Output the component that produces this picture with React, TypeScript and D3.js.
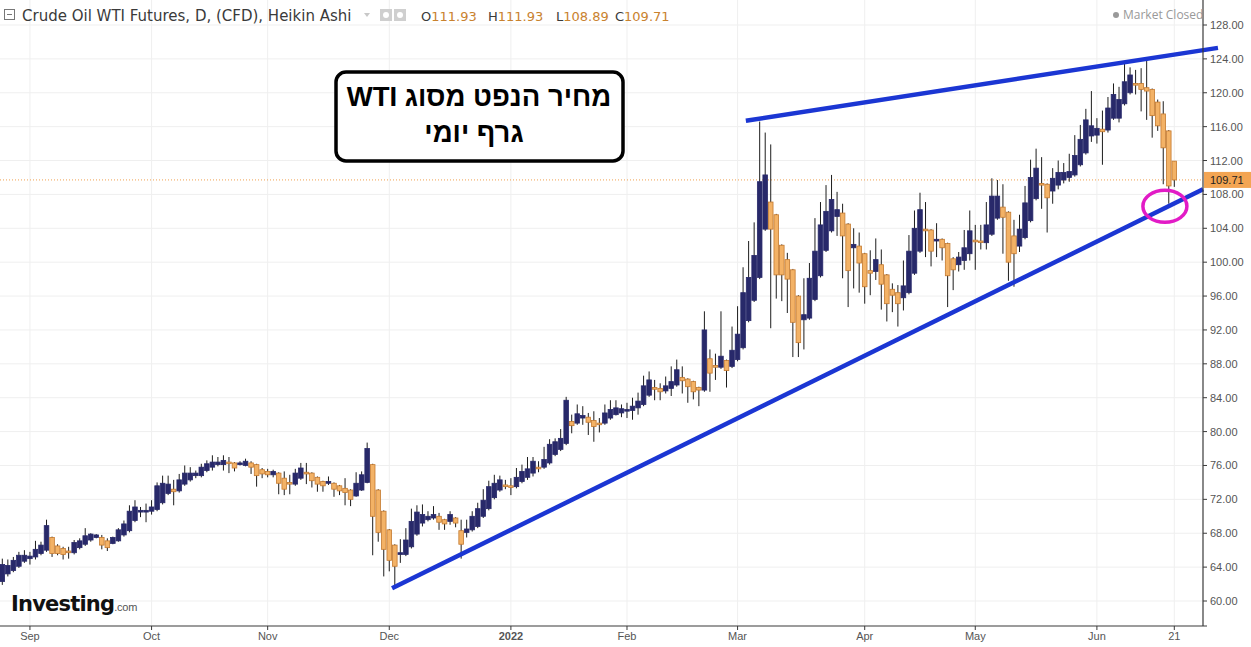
import React from 'react';
import * as d3 from 'd3';

// Heikin Ashi daily candles (late Aug 2021 – Jun 21 2022)
const openV = [
  62.3, 63.2, 63.6, 64.1, 64.7, 65.0, 65.2, 65.6, 66.0, 67.5,
  66.5, 66.2, 65.9, 65.7, 66.3, 66.7, 67.2, 67.5, 67.5, 67.1,
  66.8, 67.1, 67.8, 68.3, 69.5, 70.5, 70.5, 70.6, 70.8, 71.6,
  72.7, 73.2, 73.0, 73.8, 74.3, 74.8, 74.8, 75.4, 75.8, 76.1,
  76.1, 76.4, 76.3, 76.1, 76.0, 76.3, 76.1, 75.5, 75.3, 74.9,
  75.1, 74.5, 74.0, 73.8, 74.5, 75.2, 75.1, 74.6, 74.1, 73.9,
  73.9, 73.6, 73.3, 73.1, 72.4, 73.1, 74.0, 76.1, 73.1, 70.6,
  68.4, 66.6, 65.5, 65.5, 66.4, 67.9, 69.2, 69.6, 69.8, 70.0,
  69.6, 69.4, 69.8, 68.3, 68.1, 68.4, 68.8, 70.0, 70.9, 72.2,
  73.1, 73.7, 73.6, 73.5, 74.1, 74.6, 75.1, 75.8, 75.8, 76.3,
  77.3, 77.9, 78.6, 81.2, 81.0, 81.6, 81.7, 81.3, 81.0, 81.0,
  81.6, 82.0, 82.2, 82.5, 82.5, 82.8, 83.2, 84.3, 85.2, 85.1,
  84.8, 85.1, 85.5, 86.4, 86.2, 85.9, 85.2, 84.9, 88.6, 87.8,
  87.6, 88.4, 87.7, 88.5, 89.9, 93.1, 95.5, 98.2, 103.9, 107.1,
  105.6, 102.0, 100.3, 99.1, 96.0, 93.2, 93.4, 95.6, 98.4, 101.4,
  103.7, 105.4, 105.8, 104.5, 101.7, 101.9, 101.0, 99.0, 98.9, 99.7,
  98.5, 96.8, 96.4, 95.8, 96.4, 98.7, 101.3, 103.9, 103.8, 102.5,
  102.7, 102.2, 100.4, 99.7, 100.2, 101.0, 102.6, 102.5, 102.3, 103.3,
  105.2, 106.5, 105.9, 103.1, 101.9, 102.9, 104.9, 107.5, 109.3, 109.2,
  108.4, 109.1, 109.7, 110.0, 110.3, 111.5, 112.9, 114.9, 115.0, 115.7,
  115.6, 117.0, 117.0, 118.7, 120.0, 121.1, 121.1, 120.6, 120.4, 118.9,
  117.5, 115.5, 111.93,
];
const highV = [
  65.0, 64.9, 65.2, 65.8, 66.0, 65.8, 67.1, 67.0, 69.6, 67.6,
  66.7, 66.4, 66.4, 67.2, 67.4, 68.6, 68.0, 67.9, 67.8, 67.4,
  67.6, 68.6, 69.5, 71.3, 71.9, 71.1, 71.5, 71.9, 74.0, 74.8,
  74.8, 74.3, 75.0, 76.0, 75.8, 75.4, 76.2, 76.6, 77.2, 77.0,
  77.2, 77.0, 76.4, 76.5, 76.8, 76.5, 76.2, 75.7, 75.6, 75.5,
  75.2, 75.3, 74.9, 75.6, 76.3, 76.3, 75.2, 74.7, 74.2, 74.7,
  74.0, 73.7, 74.5, 73.2, 75.2, 75.3, 78.7, 76.2, 73.2, 70.7,
  68.5, 66.7, 67.3, 68.6, 70.9, 71.3, 71.4, 70.6, 71.2, 70.4,
  69.7, 70.6, 69.9, 69.6, 69.6, 70.6, 71.6, 73.2, 74.2, 74.9,
  74.8, 74.3, 74.5, 75.7, 76.1, 77.0, 77.0, 76.5, 78.2, 79.1,
  79.2, 80.3, 84.1, 82.0, 83.2, 83.0, 82.2, 82.4, 81.6, 83.2,
  83.7, 83.7, 83.2, 83.4, 84.0, 84.6, 86.6, 87.1, 86.1, 85.7,
  86.5, 87.7, 88.5, 87.7, 86.3, 86.0, 85.3, 94.2, 89.7, 89.2,
  94.2, 88.5, 92.4, 94.8, 99.4, 102.5, 104.7, 116.6, 115.3, 113.9,
  105.7, 102.1, 101.1, 99.2, 96.1, 98.1, 99.9, 105.2, 107.1, 109.1,
  110.3, 108.3, 106.9, 104.6, 104.0, 103.5, 101.1, 101.4, 102.8, 101.5,
  98.6, 97.5, 97.3, 100.2, 103.2, 106.1, 108.2, 107.1, 103.9, 104.6,
  102.8, 102.3, 100.6, 101.2, 103.8, 106.1, 104.4, 104.4, 107.1, 109.9,
  109.7, 109.2, 106.0, 105.0, 105.6, 109.0, 112.1, 113.4, 112.4, 109.3,
  111.1, 112.0, 111.7, 112.8, 115.0, 116.2, 118.1, 120.2, 117.0, 117.9,
  119.5, 121.1, 120.7, 123.4, 123.0, 122.7, 122.9, 123.9, 120.5, 119.2,
  119.0, 115.6, 111.93,
];
const lowV = [
  61.9, 62.9, 63.4, 63.9, 64.5, 64.3, 64.9, 65.4, 65.8, 65.2,
  65.4, 64.9, 65.0, 65.5, 66.1, 66.5, 67.0, 67.4, 66.1, 65.9,
  66.7, 67.0, 67.6, 68.1, 69.3, 69.9, 69.3, 70.2, 70.6, 71.4,
  72.5, 71.3, 72.8, 73.6, 74.1, 74.5, 74.6, 75.2, 75.4, 75.9,
  75.4, 75.1, 75.3, 76.0, 75.9, 75.0, 73.5, 74.5, 74.6, 74.6,
  72.6, 72.5, 72.6, 73.6, 74.3, 73.8, 73.4, 72.9, 72.9, 73.7,
  72.3, 72.5, 71.3, 71.2, 72.3, 73.0, 73.9, 65.4, 67.0, 62.9,
  63.5, 61.7, 64.5, 65.3, 66.2, 67.7, 68.8, 69.4, 69.6, 68.4,
  68.4, 69.0, 68.7, 65.0, 67.5, 68.2, 68.6, 69.8, 70.7, 72.0,
  72.9, 73.2, 72.5, 73.3, 73.9, 74.3, 74.7, 75.2, 75.6, 76.1,
  77.1, 77.7, 78.4, 79.8, 80.8, 80.8, 79.6, 78.8, 79.9, 80.8,
  81.4, 81.9, 81.7, 81.6, 81.4, 82.0, 83.0, 84.1, 83.7, 83.7,
  84.5, 84.2, 85.3, 84.5, 83.4, 83.8, 83.0, 84.7, 84.7, 86.1,
  87.4, 85.2, 87.5, 88.3, 89.7, 92.9, 95.3, 98.0, 103.7, 92.2,
  95.7, 95.4, 94.0, 88.8, 88.8, 89.7, 93.2, 95.4, 98.2, 101.2,
  103.5, 103.1, 98.1, 94.7, 96.9, 96.4, 95.1, 96.1, 97.9, 94.4,
  93.0, 94.1, 92.4, 94.3, 96.2, 98.5, 101.1, 100.6, 99.5, 100.6,
  100.2, 94.7, 96.7, 98.9, 99.1, 100.2, 99.1, 101.5, 101.5, 103.1,
  105.0, 101.0, 97.8, 97.1, 101.2, 102.7, 104.7, 107.3, 106.3, 103.5,
  106.9, 108.6, 109.3, 109.5, 110.1, 111.3, 112.7, 114.2, 114.0, 111.5,
  115.3, 116.8, 116.5, 118.5, 119.8, 119.8, 117.8, 116.8, 114.7, 115.5,
  109.2, 106.9, 108.89,
];
const closeV = [
  64.3, 64.2, 64.8, 65.4, 65.4, 65.3, 66.1, 66.6, 68.9, 65.6,
  65.6, 65.5, 65.7, 66.9, 67.1, 67.7, 67.9, 67.8, 66.6, 66.3,
  67.5, 68.4, 69.1, 70.6, 71.1, 70.7, 70.7, 71.1, 73.6, 73.9,
  73.8, 72.9, 74.3, 75.1, 75.1, 75.1, 75.8, 76.2, 76.4, 76.4,
  76.6, 76.3, 75.7, 76.3, 76.5, 75.8, 74.8, 75.0, 74.9, 75.3,
  73.9, 73.2, 73.8, 75.1, 75.7, 75.0, 74.2, 73.8, 73.6, 74.1,
  73.2, 73.0, 72.8, 72.0, 73.9, 74.9, 78.0, 70.0, 68.1, 66.1,
  64.8, 64.1, 65.7, 67.2, 69.4, 70.5, 70.2, 70.0, 70.2, 69.3,
  69.1, 70.2, 69.2, 66.7, 68.5, 70.0, 70.9, 71.9, 73.5, 73.9,
  74.3, 73.5, 73.5, 74.6, 75.3, 75.6, 76.5, 75.6, 76.7, 78.5,
  78.8, 79.2, 83.7, 80.7, 82.1, 81.9, 81.1, 80.6, 80.9, 82.2,
  82.6, 82.8, 82.7, 82.6, 83.0, 83.6, 85.4, 86.1, 85.0, 84.7,
  85.4, 85.9, 87.3, 86.0, 85.3, 84.7, 84.9, 92.0, 86.9, 87.6,
  88.9, 87.2, 89.6, 91.5, 96.4, 98.2, 100.8, 109.5, 110.3, 103.9,
  98.5, 98.5, 98.0, 92.9, 90.5, 93.8, 98.1, 101.3, 104.4, 106.0,
  107.4, 106.2, 103.1, 99.0, 102.1, 99.9, 97.1, 98.7, 100.3, 97.4,
  95.1, 96.1, 95.1, 97.2, 101.3, 104.0, 106.2, 103.7, 101.3, 102.7,
  101.7, 98.4, 99.1, 100.6, 101.7, 103.7, 102.4, 102.4, 104.4, 107.8,
  107.8, 105.3, 100.0, 101.0, 103.9, 107.0, 110.0, 111.1, 109.1, 107.6,
  109.9, 110.6, 110.6, 110.7, 112.6, 114.5, 116.8, 116.1, 115.8, 115.4,
  118.2, 119.8, 119.2, 121.3, 122.1, 120.9, 120.4, 120.2, 117.3, 116.1,
  113.5, 109.0, 109.71,
];

const xTickLabels = ['Sep', 'Oct', 'Nov', 'Dec', '2022', 'Feb', 'Mar', 'Apr', 'May', 'Jun', '21'];
const xTickIndex = [5, 27, 48, 70, 92, 113, 133, 156, 176, 198, 212];
const yTickValues = d3.range(60, 129, 4);

// annotation lines, in (candle index, price)
const supportLine = [[70.5, 61.5], [217.2, 108.6]];
const resistanceLine = [[134.5, 116.7], [219.9, 125.3]];
const circleMark = [210.3, 106.6];

const NAVY = '#28296a';
const TAN_FILL = '#f3b266';
const TAN_STROKE = '#c47a30';
const BLUE = '#1b36d3';

export default function App() {
  const W = 1251;
  const Hh = 647;
  const N = closeV.length;
  const plotRight = 1203;
  const plotBottom = 626;
  const x = d3.scaleLinear().domain([0, N - 1]).range([2.3, 1174.3]);
  const y = d3.scaleLinear().domain([60, 128]).range([601, 25]);
  const bodyW = 4.6;
  const last = N - 1;
  const lastClose = closeV[last];
  const fmt = d3.format('.2f');
  const lineGen = d3.line<number[]>().x((d) => x(d[0])).y((d) => y(d[1]));

  const candles = d3.range(N).map((i) => {
    const o = openV[i], c = closeV[i], h = highV[i], l = lowV[i];
    const up = c >= o;
    const top = y(Math.max(o, c));
    const bot = y(Math.min(o, c));
    const bh = Math.max(bot - top, 1.6);
    return (
      <g key={i}>
        <line x1={x(i)} x2={x(i)} y1={y(h)} y2={y(l)} stroke="#1d1d1d" strokeWidth={1} />
        <rect
          x={x(i) - bodyW / 2}
          y={top}
          width={bodyW}
          height={bh}
          fill={up ? NAVY : TAN_FILL}
          stroke={up ? NAVY : TAN_STROKE}
          strokeWidth={0.8}
        />
      </g>
    );
  });

  const ohlc = [
    ['O', openV[last]],
    ['H', highV[last]],
    ['L', lowV[last]],
    ['C', closeV[last]],
  ];
  const ohlcX = [421, 488, 556, 615];
  const hdrFont = "'DejaVu Sans', Verdana, sans-serif";

  return (
    <div style={{ position: 'fixed', left: 0, top: 0, width: W, height: Hh, background: '#fff' }}>
      <svg width={W} height={Hh} style={{ display: 'block' }} fontFamily="'Liberation Sans', Arial, sans-serif">
        <rect x={0} y={0} width={W} height={Hh} fill="#fff" />
        {/* grid */}
        {yTickValues.map((v) => (
          <line key={'gy' + v} x1={0} x2={plotRight} y1={y(v)} y2={y(v)} stroke="#efefef" strokeWidth={1} />
        ))}
        {xTickIndex.map((t, k) => (
          <line key={'gx' + k} x1={x(t)} x2={x(t)} y1={0} y2={plotBottom} stroke="#efefef" strokeWidth={1} />
        ))}
        {/* last price dotted line */}
        <line x1={0} x2={plotRight} y1={y(lastClose)} y2={y(lastClose)} stroke="#f0a04e" strokeWidth={1} strokeDasharray="1,2" />

        {candles}

        {/* trend lines */}
        <path d={lineGen(supportLine as any) || ''} stroke={BLUE} strokeWidth={4.5} fill="none" strokeLinecap="butt" />
        <path d={lineGen(resistanceLine as any) || ''} stroke={BLUE} strokeWidth={4.5} fill="none" strokeLinecap="butt" />
        <ellipse cx={x(circleMark[0])} cy={y(circleMark[1])} rx={22} ry={16} fill="none" stroke="#e21bc6" strokeWidth={3.5} />

        {/* axes */}
        <line x1={0} x2={plotRight + 4} y1={plotBottom} y2={plotBottom} stroke="#3a3a3a" strokeWidth={1.2} />
        <line x1={plotRight} x2={plotRight} y1={0} y2={plotBottom} stroke="#3a3a3a" strokeWidth={1.2} />
        {yTickValues.map((v) => (
          <g key={'yt' + v}>
            <line x1={plotRight} x2={plotRight + 4} y1={y(v)} y2={y(v)} stroke="#3a3a3a" />
            <text x={plotRight + 7} y={y(v) + 4} fontSize={11} fill="#555">
              {fmt(v)}
            </text>
          </g>
        ))}
        {xTickIndex.map((t, k) => (
          <g key={'xt' + k}>
            <line x1={x(t)} x2={x(t)} y1={plotBottom} y2={plotBottom + 4} stroke="#3a3a3a" />
            <text
              x={x(t)}
              y={plotBottom + 14}
              fontSize={11}
              textAnchor="middle"
              fill="#555"
              fontWeight={xTickLabels[k] === '2022' ? 700 : 400}
            >
              {xTickLabels[k]}
            </text>
          </g>
        ))}

        {/* last price label */}
        <rect x={plotRight + 1} y={y(lastClose) - 8} width={47} height={16} fill="#f3a553" />
        <text x={plotRight + 7} y={y(lastClose) + 4} fontSize={11} fill="#222">
          {fmt(lastClose)}
        </text>

        {/* header */}
        <rect x={4.5} y={9.5} width={10} height={10} fill="none" stroke="#777" strokeWidth={1} />
        <line x1={7} x2={12} y1={14.5} y2={14.5} stroke="#777" />
        <text x={22} y={20.5} fontSize={15} fill="#3a3a3a" fontFamily={hdrFont}>
          Crude Oil WTI Futures, D, (CFD), Heikin Ashi
        </text>
        <path d="M364,13 L370,13 L367,17 Z" fill="#c8c8c8" />
        <rect x={380} y={9} width={12} height={12} fill="#cfcfcf" />
        <circle cx={386} cy={15} r={3} fill="#fff" />
        <rect x={394} y={9} width={12} height={12} fill="#cfcfcf" />
        <circle cx={400} cy={15} r={3} fill="#fff" />
        {ohlc.map((d, k) => (
          <text key={'o' + k} x={ohlcX[k]} y={20.5} fontSize={13} fontFamily={hdrFont}>
            <tspan fill="#3a3a3a">{d[0]}</tspan>
            <tspan fill="#c9822e">{fmt(d[1] as number)}</tspan>
          </text>
        ))}
        <circle cx={1116} cy={15} r={3} fill="#999" />
        <text x={1123} y={19} fontSize={12} fill="#999" fontFamily="'Open Sans', sans-serif">
          Market Closed
        </text>

        {/* title box */}
        <rect x={336} y={72} width={287} height={89} rx={10} ry={10} fill="#fff" stroke="#000" strokeWidth={3.5} />
        <text x={479} y={106} fontSize={27.5} fontWeight={700} textAnchor="middle" style={{ direction: 'rtl', unicodeBidi: 'embed' }} fill="#000">
          מחיר הנפט מסוג WTI
        </text>
        <text x={474} y={142} fontSize={27.5} fontWeight={700} textAnchor="middle" style={{ direction: 'rtl', unicodeBidi: 'embed' }} fill="#000">
          גרף יומי
        </text>

        {/* logo */}
        <text x={11} y={611} fontSize={21} fontWeight={700} fill="#111" letterSpacing={-0.8} fontFamily="'DejaVu Sans', sans-serif">
          Investing
          <tspan fontSize={11} fontWeight={400} fill="#555" letterSpacing={-0.2} fontFamily="'Liberation Sans', Arial, sans-serif">.com</tspan>
        </text>
      </svg>
    </div>
  );
}
